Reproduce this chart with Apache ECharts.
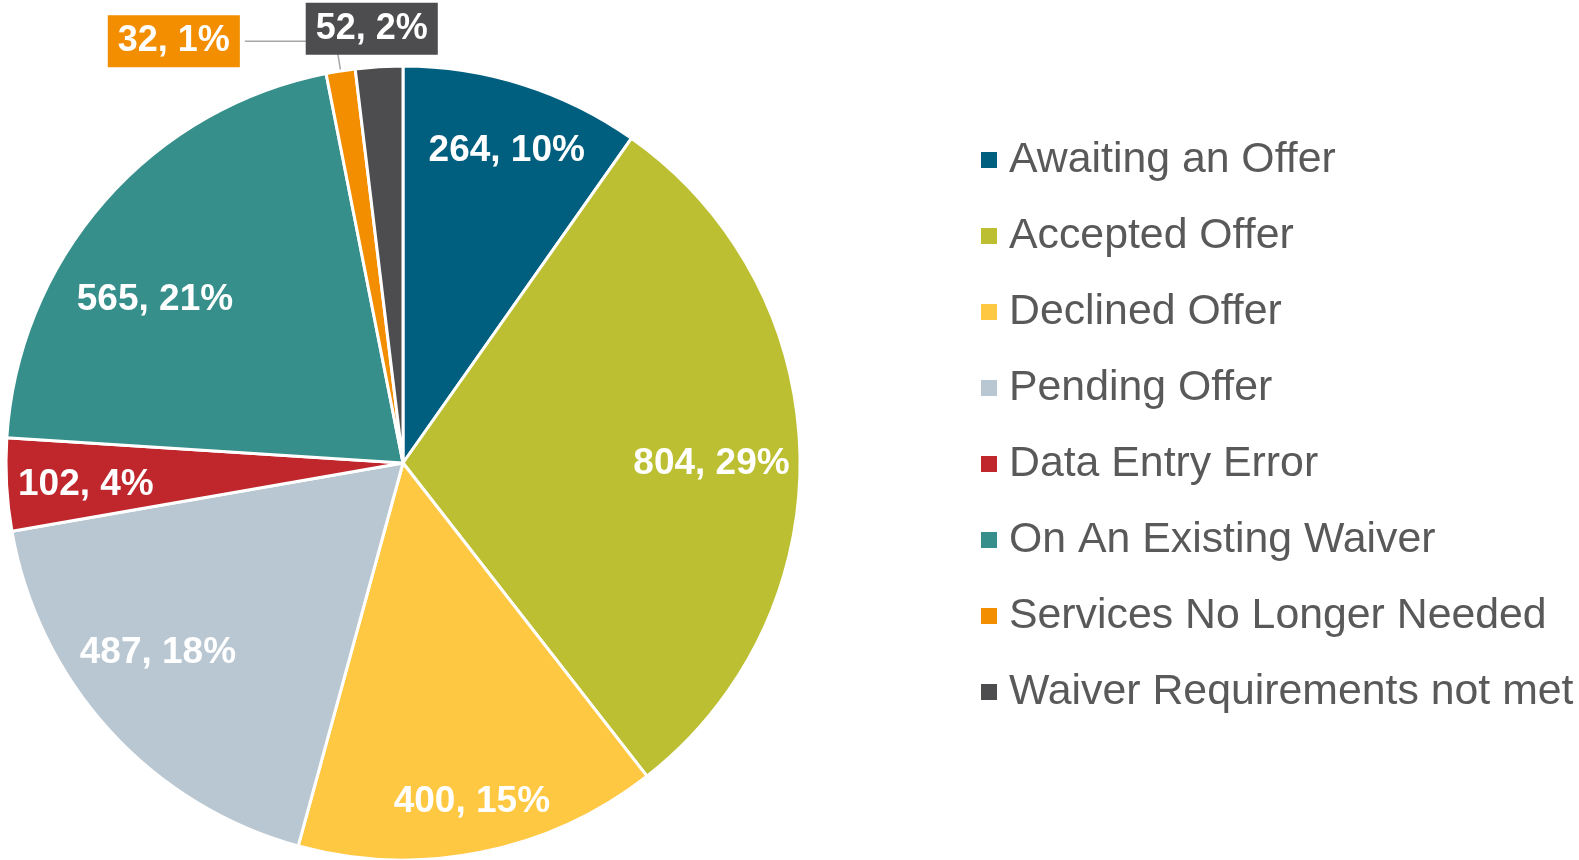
<!DOCTYPE html>
<html>
<head>
<meta charset="utf-8">
<script src="https://cdn.jsdelivr.net/npm/echarts@6/dist/echarts.min.js"></script>
<style>html,body{margin:0;padding:0;background:#fff;}#c{width:1579px;height:860px;}</style>
</head>
<body>
<div id="c"></div>
<script>
const categories = ['Awaiting an Offer','Accepted Offer','Declined Offer','Pending Offer','Data Entry Error','On An Existing Waiver','Services No Longer Needed','Waiver Requirements not met'];
const counts = [264, 804, 400, 487, 102, 565, 32, 52];
const percents = [10, 29, 15, 18, 4, 21, 1, 2];
const colors = ['#005F7F','#BDBF33','#FFC843','#B9C7D2','#C0272D','#368F8B','#F28E00','#4D4D4F'];

const FONT = "'Liberation Sans', Arial, sans-serif";
const fmt = p => counts[p.dataIndex] + ', ' + percents[p.dataIndex] + '%';
const R = 397;
const CENTER = [403, 463];
// small label nudges (styling only) to mimic the spreadsheet's "best fit" label placement
const labelNudge = [[7, -7], [-12, 9], [6, 24], [-8, -26], [3, 4], [-7, 48]];

const mainData = categories.map((name, i) => {
  const d = { name: name, value: counts[i], itemStyle: { color: colors[i] } };
  if (i === 6) {
    d.label = { show: true, position: 'outside', backgroundColor: colors[i], padding: [8, 10] };
    d.labelLine = { show: true, length: 30, length2: 91, lineStyle: { color: '#A6A6A6', width: 1.5 } };
  } else if (i === 7) {
    d.label = { show: true, position: 'outside', backgroundColor: colors[i], padding: [8, 10] };
    d.labelLine = { show: false, length: 38, length2: 0 };
  } else {
    d.label = { show: false };
  }
  return d;
});

const labelData = categories.map((name, i) => ({
  name: name, value: counts[i],
  label: { show: i < 6 }
}));

const chart = echarts.init(document.getElementById('c'), null, { renderer: 'canvas' });
chart.setOption({
  animation: false,
  backgroundColor: '#ffffff',
  color: colors,
  legend: {
    orient: 'vertical',
    left: 974,
    top: 131,
    icon: 'rect',
    itemWidth: 18,
    itemHeight: 18,
    itemGap: 28,
    selectedMode: false,
    data: categories,
    textStyle: { fontFamily: FONT, fontSize: 42.8, color: '#595959', lineHeight: 48, padding: [0, 0, 0, 6] }
  },
  series: [
    {
      type: 'pie',
      name: 'main',
      center: CENTER,
      radius: [0, R],
      startAngle: 90,
      clockwise: true,
      avoidLabelOverlap: false,
      itemStyle: { borderColor: '#ffffff', borderWidth: 3 },
      label: { formatter: fmt, color: '#ffffff', fontFamily: FONT, fontSize: 36, fontWeight: 'bold' },
      labelLayout: function (p) {
        if (p.dataIndex === 7) return { align: 'center' };
        return {};
      },
      emphasis: { disabled: true },
      data: mainData
    },
    {
      type: 'pie',
      name: 'labels',
      center: CENTER,
      radius: [R * 0.6, R],
      startAngle: 90,
      clockwise: true,
      silent: true,
      legendHoverLink: false,
      itemStyle: { color: 'rgba(0,0,0,0)', borderWidth: 0 },
      label: { position: 'inside', formatter: fmt, color: '#ffffff', fontFamily: FONT, fontSize: 37, fontWeight: 'bold' },
      labelLine: { show: false },
      labelLayout: function (p) {
        const n = labelNudge[p.dataIndex];
        return n ? { dx: n[0], dy: n[1] } : {};
      },
      emphasis: { disabled: true },
      data: labelData
    }
  ]
});
</script>
</body>
</html>
